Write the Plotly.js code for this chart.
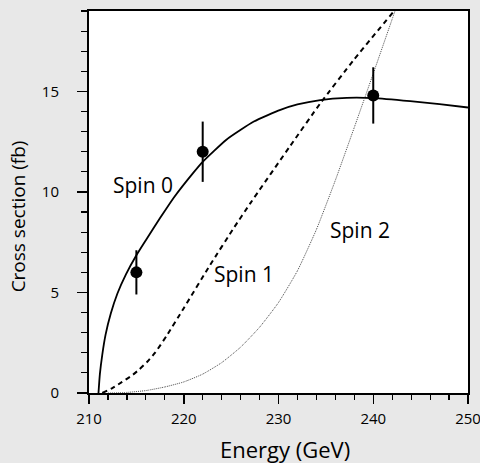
<!DOCTYPE html>
<html>
<head>
<meta charset="utf-8">
<script src="https://cdn.plot.ly/plotly-3.0.1.min.js"></script>
<style>html,body{margin:0;padding:0;background:#e8e8e8;}</style>
</head>
<body>
<div id="chart" style="width:480px;height:463px;"></div>
<script>
// Spin 0 curve (solid)
const spin0E = [211.0, 211.15, 211.4, 211.75, 212.3, 213.0, 213.9, 215.0, 216.0, 217.5, 219.0, 221.0, 222.0, 224.5, 227.4, 230.2, 232.0, 234.4, 237.2, 240.0, 243.9, 247.0, 250.0];
const spin0Y = [0, 0.95, 1.9, 2.9, 3.95, 4.95, 5.9, 6.85, 7.6, 8.7, 9.75, 10.95, 11.5, 12.6, 13.5, 14.08, 14.35, 14.57, 14.68, 14.67, 14.52, 14.37, 14.2];
// Spin 1 curve (dashed)
const spin1E = [211.4, 212.5, 213.5, 214.5, 215.3, 216.2, 217.0, 218.2, 220.0, 222.8, 225.3, 227.0, 231.25, 234.4, 238.0, 242.2, 243.5];
const spin1Y = [0, 0.25, 0.55, 0.86, 1.17, 1.58, 2.02, 2.85, 4.22, 6.38, 8.22, 9.42, 12.3, 14.4, 16.6, 19.0, 19.7];
// Spin 2 curve (dotted)
const spin2E = [212.0, 214.0, 216.0, 218.0, 220.0, 222.0, 224.0, 226.0, 228.0, 230.0, 232.0, 234.0, 236.0, 238.0, 240.0, 242.0, 243.0];
const spin2Y = [0, 0.03, 0.12, 0.3, 0.55, 0.94, 1.51, 2.28, 3.27, 4.5, 6.08, 8.13, 10.58, 13.21, 15.89, 18.6, 19.96];
// Measured points
const dataE = [215, 222, 240];
const dataY = [6.0, 12.0, 14.8];
const dataErr = [1.1, 1.5, 1.4];
// Labels
const labelText = ["Spin 0", "Spin 1", "Spin 2"];
const labelE = [215.66, 226.35, 238.65];
const labelY = [10.33, 5.9, 8.12];
const xTitle = "Energy (GeV)";
const yTitle = "Cross section (fb)";

const FONT = '"Open Sans", "Noto Sans", sans-serif';

const traces = [
  {x: spin0E, y: spin0Y, mode: 'lines', line: {color: 'black', width: 1.8, shape: 'spline', smoothing: 0.5}, hoverinfo: 'skip'},
  {x: spin1E, y: spin1Y, mode: 'lines', line: {color: 'black', width: 2, dash: '5px,4px', shape: 'spline', smoothing: 0.5}, hoverinfo: 'skip'},
  {x: spin2E, y: spin2Y, mode: 'lines', line: {color: '#4a4a4a', width: 1, dash: '1px,1px', shape: 'spline', smoothing: 0.5}, hoverinfo: 'skip'},
  {x: dataE, y: dataY, mode: 'markers', marker: {color: 'black', size: 12},
   error_y: {type: 'data', array: dataErr, visible: true, thickness: 2, width: 0, color: 'black'}}
];

const annotations = labelText.map((t, i) => ({
  x: labelE[i], y: labelY[i], xref: 'x', yref: 'y', text: t, showarrow: false,
  font: {family: FONT, size: 21, color: 'black'}, xanchor: 'center', yanchor: 'middle'
}));
annotations.push({
  x: 0.5176, y: -0.146, xref: 'paper', yref: 'paper', text: xTitle, showarrow: false,
  font: {family: FONT, size: 22, color: 'black'}, xanchor: 'center', yanchor: 'middle'
});
annotations.push({
  x: -0.1867, y: 0.463, xref: 'paper', yref: 'paper', text: yTitle, showarrow: false, textangle: -90,
  font: {family: FONT, size: 19, color: 'black'}, xanchor: 'center', yanchor: 'middle'
});

const layout = {
  width: 480, height: 463,
  paper_bgcolor: '#e8e8e8', plot_bgcolor: 'white',
  margin: {l: 89, r: 12, t: 11, b: 70, pad: 0},
  showlegend: false,
  font: {family: FONT, color: 'black'},
  xaxis: {
    range: [210, 250], tick0: 210, dtick: 10, ticks: 'outside', ticklen: 9, tickwidth: 1.5, tickcolor: 'black',
    showline: true, linewidth: 2, linecolor: 'black', mirror: true, showgrid: false, zeroline: false,
    tickfont: {family: FONT, size: 15, color: 'black'}, ticklabelstandoff: 2, ticklabeloverflow: 'allow',
    minor: {dtick: 2, ticks: 'outside', ticklen: 5, tickwidth: 1.2, tickcolor: 'black', showgrid: false}
  },
  yaxis: {
    range: [0, 19], tick0: 0, dtick: 5, ticks: 'outside', ticklen: 10, tickwidth: 1.5, tickcolor: 'black',
    showline: true, linewidth: 2, linecolor: 'black', mirror: true, showgrid: false, zeroline: false,
    tickfont: {family: FONT, size: 15, color: 'black'}, ticklabelstandoff: 15,
    minor: {dtick: 1, ticks: 'outside', ticklen: 6, tickwidth: 1.2, tickcolor: 'black', showgrid: false}
  },
  annotations: annotations
};

Plotly.newPlot('chart', traces, layout, {staticPlot: true, displayModeBar: false});
</script>
</body>
</html>
